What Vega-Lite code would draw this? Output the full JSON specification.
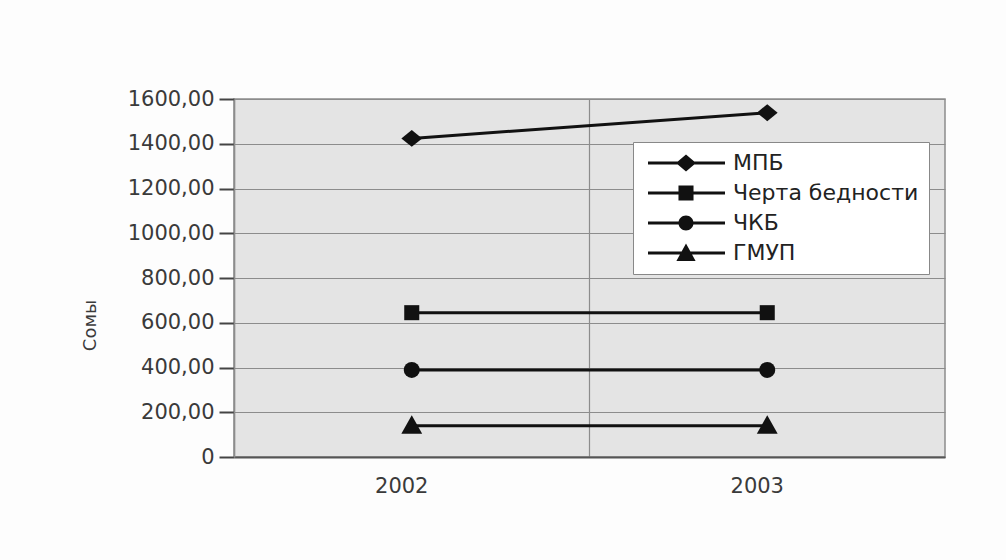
{
  "$schema": "https://vega.github.io/schema/vega-lite/v6.json",
  "width": 711,
  "height": 358,
  "autosize": "none",
  "padding": {"left": 234, "top": 99, "right": 61, "bottom": 103},
  "background": "#fdfdfd",
  "data": {
    "values": [
      {"year": "2002", "series": "МПБ", "value": 1424},
      {"year": "2003", "series": "МПБ", "value": 1539},
      {"year": "2002", "series": "Черта бедности", "value": 645},
      {"year": "2003", "series": "Черта бедности", "value": 645},
      {"year": "2002", "series": "ЧКБ", "value": 389},
      {"year": "2003", "series": "ЧКБ", "value": 389},
      {"year": "2002", "series": "ГМУП", "value": 140},
      {"year": "2003", "series": "ГМУП", "value": 140}
    ]
  },
  "encoding": {
    "x": {
      "field": "year",
      "type": "ordinal",
      "scale": {"type": "band", "paddingInner": 0, "paddingOuter": 0},
      "axis": {
        "title": null,
        "labelAngle": 0,
        "bandPosition": 0,
        "grid": true,
        "gridColor": "#8c8c8c",
        "gridWidth": 1.2,
        "ticks": false,
        "domainColor": "#555555",
        "domainWidth": 2,
        "labelFont": "DejaVu Sans",
        "labelFontSize": 21,
        "labelColor": "#3a3a3a",
        "labelPadding": 18,
        "labelOffset": -10
      }
    },
    "y": {
      "field": "value",
      "type": "quantitative",
      "scale": {"domain": [0, 1600], "nice": false},
      "axis": {
        "title": "Сомы",
        "values": [0, 200, 400, 600, 800, 1000, 1200, 1400, 1600],
        "labelExpr": "datum.value == 0 ? '0' : replace(format(datum.value, '.2f'), '.', ',')",
        "grid": true,
        "gridColor": "#8c8c8c",
        "gridWidth": 1.2,
        "tickSize": 15,
        "tickWidth": 2,
        "tickColor": "#444444",
        "domainColor": "#8c8c8c",
        "domainWidth": 1.5,
        "labelFont": "DejaVu Sans",
        "labelFontSize": 21,
        "labelColor": "#3a3a3a",
        "labelPadding": 5,
        "titleFont": "DejaVu Sans",
        "titleFontSize": 18,
        "titleFontWeight": "normal",
        "titleColor": "#3a3a3a",
        "titleAngle": -90,
        "titleAlign": "center",
        "titleBaseline": "middle",
        "titleX": -144,
        "titleY": 226
      }
    }
  },
  "layer": [
    {
      "mark": {"type": "line", "color": "#111111", "strokeWidth": 3},
      "encoding": {"detail": {"field": "series"}}
    },
    {
      "mark": {"type": "point", "filled": true, "size": 256, "color": "#111111", "opacity": 1},
      "encoding": {
        "shape": {
          "field": "series",
          "type": "nominal",
          "scale": {
            "domain": ["МПБ", "Черта бедности", "ЧКБ", "ГМУП"],
            "range": [
              "M-1.3,0L0,-1.06L1.3,0L0,1.06Z",
              "M-0.94,-0.94H0.94V0.94H-0.94Z",
              "circle",
              "M0,-1.3L1.3,1L-1.3,1Z"
            ]
          },
          "legend": null
        }
      }
    },
    {
      "mark": {"type": "point", "filled": true, "size": 256, "color": "#111111", "opacity": 0},
      "encoding": {
        "shape": {
          "field": "series",
          "type": "nominal",
          "scale": {
            "domain": ["МПБ", "Черта бедности", "ЧКБ", "ГМУП"],
            "range": [
              "M-0.75,-0.19L8.875,-0.19L8.875,0.19L-0.75,0.19ZM4,-1.06L5.25,0L4,1.06L2.75,0Z",
              "M-0.75,-0.19L8.875,-0.19L8.875,0.19L-0.75,0.19ZM3.06,-0.94L4.94,-0.94L4.94,0.94L3.06,0.94Z",
              "M-0.75,-0.19L8.875,-0.19L8.875,0.19L-0.75,0.19ZM4.94,0A0.94,0.94,0,1,1,3.06,0A0.94,0.94,0,1,1,4.94,0Z",
              "M-0.75,-0.19L8.875,-0.19L8.875,0.19L-0.75,0.19ZM4,-1.2L5.2,1L2.8,1Z"
            ]
          },
          "legend": {
            "title": null,
            "orient": "none",
            "legendX": 399,
            "legendY": 43,
            "fillColor": "#ffffff",
            "strokeColor": "#888888",
            "padding": 10,
            "rowPadding": 8,
            "labelFont": "DejaVu Sans",
            "labelFontSize": 22,
            "labelColor": "#222222",
            "labelOffset": 68,
            "labelLimit": 400,
            "symbolSize": 256,
            "symbolStrokeWidth": 0,
            "symbolFillColor": "#111111",
            "symbolOpacity": 1
          }
        }
      }
    }
  ],
  "resolve": {"scale": {"shape": "independent"}, "legend": {"shape": "independent"}},
  "config": {
    "view": {"fill": "#e4e4e4", "stroke": "#8c8c8c", "strokeWidth": 1.5}
  }
}
